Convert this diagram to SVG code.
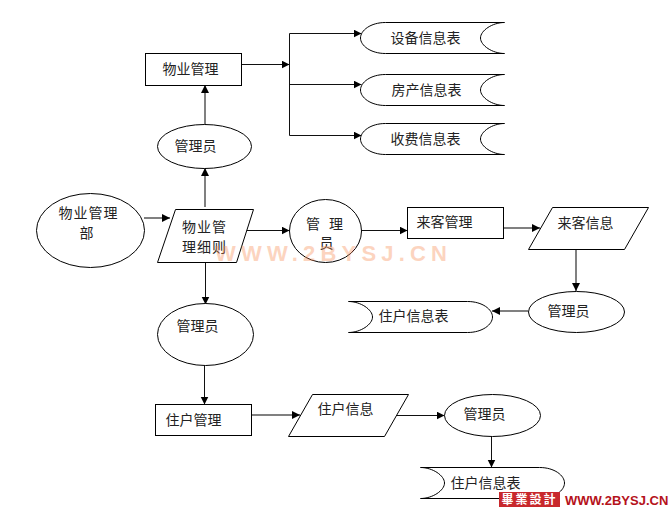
<svg xmlns="http://www.w3.org/2000/svg" width="669" height="507" viewBox="0 0 669 507">
<style>
.s{fill:#fff;stroke:#000;stroke-width:1}
.t{font-family:"Noto Sans CJK SC","Liberation Sans",sans-serif;font-size:14px;fill:#222;text-anchor:middle;transform:translate(-2px,-2px)}
.w{letter-spacing:1px}
.c{fill:none;stroke:#111;stroke-width:1;marker-end:url(#a)}
.g{fill:none;stroke:#808080;stroke-width:2;marker-end:url(#a);transform:translate(-.5px,-.5px)}
.wm{font-family:"Liberation Sans",sans-serif;font-weight:700;font-size:22px;fill:#f88a50;opacity:.36;letter-spacing:5.200px}
</style>
<defs>
<marker id="a" markerUnits="userSpaceOnUse" markerWidth="9" markerHeight="9" refX="8" refY="4" orient="auto"><path d="M0 0L8 4L0 8Z" fill="#000"/></marker>
<path id="r" d="M144 0H25C10 0 0 8 0 15.500C0 23 10 31 25 31H144M144 0C132 0 120 8 120 15.500C120 23 132 31 144 31"/>
<path id="l" d="M0 0H119C134 0 144 8 144 15.500C144 23 134 31 119 31H0M0 0C12 0 24 8 24 15.500C24 23 12 31 0 31"/>
</defs>
<rect width="669" height="507" fill="#fff"/>
<g transform="translate(.5 .5)">
<g id="connectors">
<path class="c" d="M241 64H289"/>
<path class="c" d="M289 33V135M289 33H361"/>
<path class="c" d="M289 84H361"/>
<path class="c" d="M289 135H361"/>
<path class="g" d="M205 130V85"/>
<path class="g" d="M205 207V168"/>
<path class="g" d="M144 218H170"/>
<path class="c" d="M241 230H289"/>
<path class="c" d="M361 230H407"/>
<path class="g" d="M503 228H540"/>
<path class="g" d="M576 249V291"/>
<path class="g" d="M528 311H492"/>
<path class="c" d="M205 262V304"/>
<path class="c" d="M204 365V404"/>
<path class="g" d="M251 415H300"/>
<path class="c" d="M396 415H444"/>
<path class="c" d="M491 436V467"/>
</g>
<g id="n1"><rect class="s" x="145" y="53" width="96" height="32"/><text class="t" x="192" y="75">物业管理</text></g>
<g id="n2"><use href="#r" class="s" x="360" y="22"/><text class="t" x="427" y="44">设备信息表</text></g>
<g id="n3"><use href="#r" class="s" x="360" y="74"/><text class="t" x="428" y="96">房产信息表</text></g>
<g id="n4"><use href="#r" class="s" x="360" y="123"/><text class="t" x="427" y="145">收费信息表</text></g>
<g id="n5"><ellipse class="s" cx="204" cy="146" rx="47" ry="22"/><text class="t" x="197" y="152">管理员</text></g>
<g id="n6"><ellipse class="s" cx="90" cy="230" rx="54" ry="37"/><text class="t w" x="90" y="219">物业管理</text><text class="t" x="88" y="239">部</text></g>
<g id="n7"><path class="s" d="M175 209H253L236 262H157Z"/><text class="t w" x="206" y="233">物业管</text><text class="t w" x="206" y="253">理细则</text></g>
<g id="n8"><ellipse class="s" cx="325" cy="230.500" rx="36" ry="31.500"/><text class="t" x="326" y="230" word-spacing="6">管 理</text><text class="t" x="328" y="249">员</text></g>
<g id="n9"><rect class="s" x="407" y="207" width="96" height="31"/><text class="t" x="446" y="228">来客管理</text></g>
<g id="n10"><path class="s" d="M552 207H648L624 249H528Z"/><text class="t" x="587" y="229">来客信息</text></g>
<g id="n11"><ellipse class="s" cx="576" cy="311.500" rx="48" ry="20.500"/><text class="t" x="570" y="317">管理员</text></g>
<g id="n12"><use href="#l" class="s" x="348" y="301"/><text class="t" x="415" y="322">住户信息表</text></g>
<g id="n13"><ellipse class="s" cx="205" cy="334" rx="48" ry="31"/><text class="t" x="199" y="332">管理员</text></g>
<g id="n14"><rect class="s" x="155" y="404" width="96" height="31"/><text class="t" x="195" y="426">住户管理</text></g>
<g id="n15"><path class="s" d="M312 394H408L384 436H288Z"/><text class="t" x="347" y="415">住户信息</text></g>
<g id="n16"><ellipse class="s" cx="492" cy="415" rx="48" ry="21"/><text class="t" x="486" y="420">管理员</text></g>
<g id="n17"><use href="#l" class="s" x="420" y="467"/><text class="t" x="487" y="489">住户信息表</text></g>
</g>
<text class="wm" x="215" y="261">WWW.2BYSJ.CN</text>
<g id="logo"><rect x="499" y="492" width="61" height="15" fill="#c8282c"/><text x="529.500" y="504" font-family="Noto Sans CJK TC,sans-serif" font-weight="700" font-size="12" letter-spacing="2" fill="#fff" text-anchor="middle">畢業設計</text>
<text x="565" y="505" font-family="Liberation Sans,sans-serif" font-weight="700" font-size="13" fill="#b5121b">WWW.2BYSJ.CN</text></g>
</svg>
